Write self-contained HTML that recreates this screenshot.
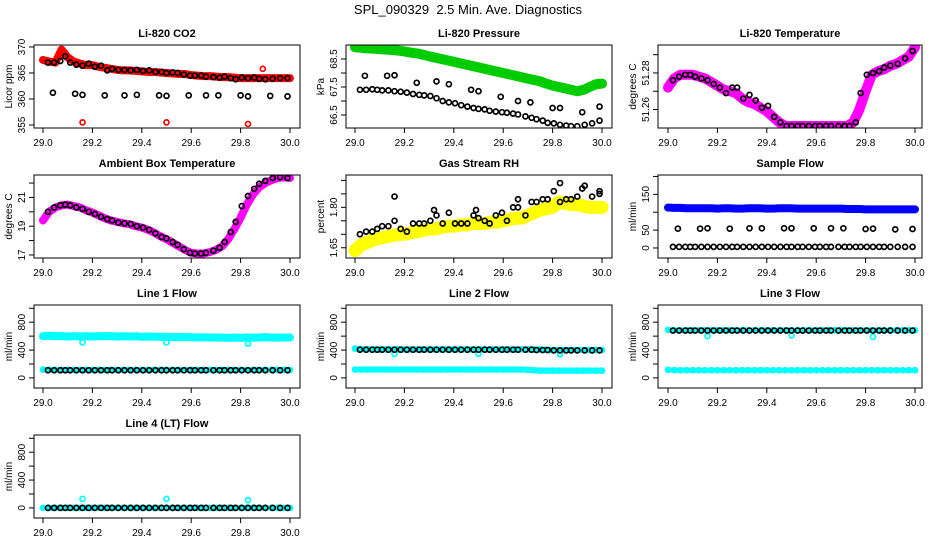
<!DOCTYPE html>
<html><head><meta charset="utf-8">
<style>
html,body{margin:0;padding:0;background:#fff;}
svg{display:block;font-family:"Liberation Sans",Arial,sans-serif;}
.tl{font-size:10px;fill:#000;}
.pt{font-size:11px;font-weight:bold;fill:#000;}
</style></head>
<body>
<svg id="chart" width="936" height="540" viewBox="0 0 936 540" xmlns="http://www.w3.org/2000/svg">
<text x="468" y="14" text-anchor="middle" style="font-size:13px;white-space:pre" xml:space="preserve">SPL_090329  2.5 Min. Ave. Diagnostics</text>
</svg>
<script>
const xGrid=[29.0,29.025,29.05,29.075,29.1,29.125,29.15,29.175,29.2,29.225,29.25,29.275,29.3,29.325,29.35,29.375,29.4,29.425,29.45,29.475,29.5,29.525,29.55,29.575,29.6,29.625,29.65,29.675,29.7,29.725,29.75,29.775,29.8,29.825,29.85,29.875,29.9,29.925,29.95,29.975,30.0];
const blkX=[29.02,29.045,29.07,29.09,29.11,29.135,29.16,29.185,29.21,29.235,29.26,29.28,29.305,29.33,29.355,29.38,29.405,29.43,29.455,29.48,29.5,29.525,29.545,29.57,29.595,29.615,29.64,29.66,29.69,29.715,29.735,29.76,29.78,29.805,29.83,29.855,29.875,29.9,29.93,29.96,29.99];
const sparseX=[29.04,29.13,29.16,29.25,29.33,29.38,29.47,29.5,29.59,29.66,29.71,29.8,29.83,29.92,29.99];
const xTicks=[29.0,29.2,29.4,29.6,29.8,30.0];

const co2Red=[367.5,367.2,367.0,369.5,368.0,367.2,366.8,366.5,366.5,366.2,366.0,365.8,365.6,365.5,365.5,365.4,365.3,365.2,365.2,365.1,365.0,364.9,364.8,364.8,364.6,364.5,364.4,364.4,364.3,364.2,364.2,364.1,364.0,364.0,364.0,364.0,364.0,364.0,364.0,364.0,364.0];
const co2Blk=[367.0,367.0,367.3,368.2,367.0,366.6,366.4,366.8,366.2,366.4,365.5,365.8,365.6,365.6,365.5,365.6,365.4,365.5,365.2,365.2,365.0,365.1,365.0,364.7,364.5,364.5,364.5,364.3,364.2,364.1,364.3,364.0,363.8,364.1,364.0,364.1,363.9,363.8,363.9,364.0,364.0];
const co2Low=[361.2,361.0,360.8,360.7,360.7,360.8,360.7,360.6,360.7,360.7,360.7,360.7,360.5,360.6,360.5];
const co2OutX=[29.16,29.5,29.83,29.89];
const co2OutY=[355.5,355.5,355.2,365.8];

const presGreen=[68.92,68.9,68.88,68.87,68.85,68.84,68.82,68.8,68.77,68.73,68.7,68.65,68.6,68.55,68.5,68.45,68.4,68.35,68.3,68.25,68.2,68.15,68.1,68.05,68.0,67.95,67.9,67.85,67.8,67.75,67.7,67.62,67.55,67.5,67.45,67.4,67.35,67.4,67.5,67.6,67.62];
const presBlk=[67.4,67.4,67.42,67.4,67.38,67.38,67.35,67.33,67.3,67.25,67.22,67.2,67.18,67.1,67.0,66.95,66.92,66.85,66.8,66.75,66.72,66.7,66.65,66.62,66.6,66.58,66.55,66.52,66.45,66.4,66.35,66.3,66.22,66.2,66.15,66.12,66.1,66.1,66.15,66.2,66.3];
const presUp=[67.9,67.9,67.92,67.65,67.7,67.6,67.4,67.35,67.15,67.0,66.95,66.75,66.75,66.6,66.8];

const tempMag=[51.272,51.277,51.279,51.279,51.279,51.278,51.277,51.275,51.273,51.271,51.270,51.269,51.266,51.264,51.263,51.261,51.259,51.256,51.253,51.251,51.251,51.251,51.251,51.251,51.251,51.251,51.251,51.251,51.251,51.251,51.253,51.260,51.270,51.279,51.281,51.282,51.284,51.285,51.287,51.289,51.294];
const tempBlk=[51.276,51.278,51.279,51.279,51.278,51.277,51.276,51.274,51.272,51.269,51.272,51.272,51.266,51.268,51.265,51.261,51.262,51.256,51.253,51.251,51.251,51.251,51.251,51.251,51.251,51.251,51.251,51.251,51.251,51.251,51.251,51.253,51.269,51.279,51.280,51.281,51.283,51.284,51.285,51.288,51.292];

const ambMag=[19.4,20.0,20.3,20.45,20.5,20.4,20.3,20.1,19.95,19.75,19.55,19.4,19.3,19.2,19.15,19.0,18.9,18.75,18.55,18.3,18.1,17.85,17.6,17.35,17.15,17.1,17.1,17.2,17.35,17.6,18.1,18.8,19.6,20.5,21.2,21.7,22.0,22.2,22.35,22.4,22.35];
const ambBlk=[20.0,20.3,20.45,20.5,20.45,20.3,20.2,20.0,19.85,19.65,19.5,19.4,19.25,19.2,19.15,19.0,18.9,18.75,18.5,18.25,18.15,17.9,17.7,17.4,17.15,17.1,17.1,17.15,17.3,17.5,17.9,18.6,19.3,20.4,21.1,21.6,21.95,22.15,22.35,22.4,22.35];

const rhYel=[1.64,1.66,1.67,1.68,1.685,1.69,1.695,1.70,1.70,1.705,1.71,1.715,1.72,1.72,1.725,1.73,1.73,1.735,1.735,1.74,1.74,1.74,1.745,1.745,1.75,1.755,1.76,1.76,1.77,1.78,1.79,1.795,1.80,1.82,1.815,1.81,1.81,1.805,1.80,1.80,1.80];
const rhBlk=[1.70,1.71,1.71,1.72,1.73,1.73,1.75,1.72,1.71,1.74,1.74,1.74,1.75,1.77,1.74,1.78,1.74,1.74,1.74,1.77,1.76,1.75,1.74,1.77,1.78,1.75,1.80,1.80,1.77,1.82,1.82,1.83,1.83,1.86,1.82,1.83,1.83,1.84,1.88,1.84,1.86];
const rhExtraX=[29.16,29.32,29.49,29.66,29.83,29.92,29.99];
const rhExtraY=[1.84,1.79,1.79,1.83,1.89,1.87,1.85];

const flowBlue=[113,112,112,111,111,111,111,111,110,111,111,110,110,111,111,111,110,110,111,111,111,110,110,110,110,110,110,110,110,109,109,109,108,108,108,108,108,108,108,108,108];
const flowBlk=[3,3,3,3,3,3,3,3,3,3,3,3,3,3,3,3,3,3,3,3,3,3,3,3,3,3,3,3,3,3,3,3,3,3,3,3,3,3,3,3,3];
const flowUp=[54,54,55,54,55,55,55,55,55,55,55,53,54,52,53];

const l1Up=[600,605,600,600,595,600,595,600,595,598,600,600,595,598,595,598,590,595,592,590,590,585,588,585,585,580,583,580,580,578,575,580,575,580,578,580,585,580,578,580,580];
const l1Low=[120,118,116,115,115,115,115,115,115,115,115,115,115,115,115,115,115,115,115,115,115,115,115,115,115,115,115,115,115,115,115,115,115,115,115,115,115,115,115,115,115];
const l1Blk=[110,110,110,110,110,110,110,110,110,110,110,110,110,110,110,110,110,110,110,110,110,110,110,110,110,110,110,110,110,110,110,110,110,110,110,110,110,110,110,110,110];
const l1DipX=[29.16,29.5,29.83];
const l1DipY=[510,510,490];

const l2Up=[420,415,412,412,410,410,410,410,410,410,410,410,410,410,410,410,410,410,410,410,410,410,410,410,410,410,410,410,410,410,410,405,400,400,400,400,400,400,400,400,400];
const l2Low=[120,120,120,120,120,120,120,120,120,120,120,120,120,120,120,120,120,120,120,120,120,120,120,120,120,120,120,120,115,110,105,105,105,105,105,105,105,105,105,105,105];
const l2Blk=[405,405,405,405,405,405,405,405,405,405,405,405,405,405,405,405,405,405,405,405,405,405,405,405,405,405,405,405,405,405,400,400,400,395,395,395,395,395,395,395,395];
const l2DipX=[29.16,29.5,29.83];
const l2DipY=[345,345,340];

const l3Up=[690,685,685,685,685,685,685,685,685,685,685,685,685,685,685,685,685,685,685,685,685,685,685,685,685,685,685,685,685,685,685,685,685,685,685,685,685,685,685,685,685];
const l3Low=[115,112,110,110,110,110,110,110,110,110,110,110,110,110,110,110,110,110,110,110,110,110,110,110,110,110,110,110,110,110,110,110,110,110,110,110,110,110,110,110,110];
const l3Blk=[680,680,680,680,680,680,680,680,680,680,680,680,680,680,680,680,680,680,680,680,680,680,680,680,680,680,680,680,680,680,680,680,680,680,680,680,680,680,680,680,680];
const l3DipX=[29.16,29.5,29.83];
const l3DipY=[600,610,590];

const l4Cyan=[0,0,0,0,0,0,0,0,0,0,0,0,0,0,0,0,0,0,0,0,0,0,0,0,0,0,0,0,0,0,0,0,0,0,0,0,0,0,0,0,0];
const l4Blk=[0,0,0,0,0,0,0,0,0,0,0,0,0,0,0,0,0,0,0,0,0,0,0,0,0,0,0,0,0,0,0,0,0,0,0,0,0,0,0,0,0];
const l4SpikeX=[29.16,29.5,29.83];
const l4SpikeY=[130,130,110];

const flowTicks=[0,200,400,600,800,1000];
const flowLabels=[0,400,800];

const svg=document.getElementById('chart');
const NS='http://www.w3.org/2000/svg';
function mk(tag,attrs,parent){const e=document.createElementNS(NS,tag);for(const k in attrs)e.setAttribute(k,attrs[k]);(parent||svg).appendChild(e);return e;}

const cols=[{l:34,r:300,x0:43,x1:290},{l:346,r:612,x0:355,x1:602},{l:658,r:922,x0:668,x1:915}];
const rowTop=[45,175,305,435];
const H=83;

function panel(cfg){
  const c=cols[cfg.col], top=rowTop[cfg.row], bot=top+H;
  const g=mk('g',{});
  
  
  const sx=v=>c.x0+(v-29)*(c.x1-c.x0);
  const sy=v=>bot-(v-cfg.ymin)/(cfg.ymax-cfg.ymin)*H;
  const t=mk('text',{x:(c.l+c.r)/2,y:top-8,'text-anchor':'middle',class:'pt'},g);
  t.textContent=cfg.title;
  
  
  const clip='clip'+cfg.row+cfg.col;
  const cp=mk('clipPath',{id:clip},g);
  mk('rect',{x:c.l,y:top,width:c.r-c.l,height:H},cp);
  const dg=mk('g',{'clip-path':'url(#'+clip+')'},g);
  cfg.series.forEach(s=>{
    const sg=mk('g',{},dg);
    
    
    if(s.band){
      const pts=s.x.map((xv,i)=>sx(xv)+','+sy(s.y[i])).join(' ');
      mk('polyline',{points:pts,fill:'none',stroke:s.color,'stroke-width':s.band,'stroke-linejoin':'round','stroke-linecap':'round'},sg);
    }
    s.x.forEach((xv,i)=>{
      const ci=mk('circle',{cx:sx(xv),cy:sy(s.y[i]),r:2.5,fill:'none',stroke:s.color,'stroke-width':1.7},sg);
      
      
    });
  });
  const box=mk('rect',{x:c.l,y:top,width:c.r-c.l,height:H,fill:'none',stroke:'#000','stroke-width':1},g);
  
  
  const xa=mk('g',{},g);
  
  
  xTicks.forEach(v=>{
    mk('line',{x1:sx(v),x2:sx(v),y1:bot,y2:bot+5,stroke:'#000'},xa);
    const tl=mk('text',{x:sx(v),y:bot+18,'text-anchor':'middle',class:'tl'},xa);
    tl.textContent=v.toFixed(1);
  });
  const ya=mk('g',{},g);
  
  
  cfg.ticks.forEach(v=>{mk('line',{x1:c.l-5,x2:c.l,y1:sy(v),y2:sy(v),stroke:'#000'},ya);});
  cfg.labels.forEach(v=>{
    const lx=c.l-9, ly=sy(v);
    const tl=mk('text',{x:lx,y:ly,'text-anchor':'middle',class:'tl',transform:'rotate(-90 '+lx+' '+ly+')'},ya);
    tl.textContent=cfg.fmt?cfg.fmt(v):String(v);
  });
  const yx=c.l-22, yy=(top+bot)/2;
  const yt=mk('text',{x:yx,y:yy,'text-anchor':'middle',class:'tl',transform:'rotate(-90 '+yx+' '+yy+')'},g);
  yt.textContent=cfg.ylab;
  
  
}

panel({name:'co2-panel',title:'Li-820 CO2',ylab:'Licor ppm',col:0,row:0,ymin:354.42,ymax:370.38,ticks:[355,360,365,370],labels:[355,360,365,370],
  series:[{name:'co2-red',x:xGrid,y:co2Red,color:'#ff0000',band:8},{name:'co2-red-outliers',x:co2OutX,y:co2OutY,color:'#ff0000'},
  {name:'co2-black',x:blkX,y:co2Blk,color:'#000'},{name:'co2-black-low',x:sparseX,y:co2Low,color:'#000'}]});
panel({name:'pressure-panel',title:'Li-820 Pressure',ylab:'kPa',col:1,row:0,ymin:66.036,ymax:69.0,ticks:[66.5,67,67.5,68,68.5],labels:[66.5,67.5,68.5],fmt:v=>v.toFixed(1),
  series:[{name:'pressure-green',x:xGrid,y:presGreen,color:'#00cc00',band:10},{name:'pressure-black',x:blkX,y:presBlk,color:'#000'},{name:'pressure-black-up',x:sparseX,y:presUp,color:'#000'}]});
panel({name:'temperature-panel',title:'Li-820 Temperature',ylab:'degrees C',col:2,row:0,ymin:51.2499,ymax:51.2953,ticks:[51.26,51.27,51.28,51.29],labels:[51.26,51.28],fmt:v=>v.toFixed(2),
  series:[{name:'temp-magenta',x:xGrid,y:tempMag,color:'#ff00ff',band:10},{name:'temp-black',x:blkX,y:tempBlk,color:'#000'}]});
panel({name:'ambient-panel',title:'Ambient Box Temperature',ylab:'degrees C',col:0,row:1,ymin:16.79,ymax:22.56,ticks:[17,18,19,20,21,22],labels:[17,19,21],
  series:[{name:'ambient-magenta',x:xGrid,y:ambMag,color:'#ff00ff',band:8},{name:'ambient-black',x:blkX,y:ambBlk,color:'#000'}]});
panel({name:'rh-panel',title:'Gas Stream RH',ylab:'percent',col:1,row:1,ymin:1.612,ymax:1.92,ticks:[1.65,1.7,1.75,1.8,1.85,1.9],labels:[1.65,1.8],fmt:v=>v.toFixed(2),
  series:[{name:'rh-yellow',x:xGrid,y:rhYel,color:'#ffff00',band:13},{name:'rh-black',x:blkX,y:rhBlk,color:'#000'},{name:'rh-black-extra',x:rhExtraX,y:rhExtraY,color:'#000'}]});
panel({name:'sample-flow-panel',title:'Sample Flow',ylab:'ml/min',col:2,row:1,ymin:-28,ymax:204,ticks:[0,50,100,150,200],labels:[0,50,150],
  series:[{name:'flow-blue',x:xGrid,y:flowBlue,color:'#0000ff',band:8},{name:'flow-black',x:blkX,y:flowBlk,color:'#000'},{name:'flow-black-up',x:sparseX,y:flowUp,color:'#000'}]});
panel({name:'line1-panel',title:'Line 1 Flow',ylab:'ml/min',col:0,row:2,ymin:-145,ymax:1047,ticks:flowTicks,labels:flowLabels,
  series:[{name:'line1-cyan-up',x:xGrid,y:l1Up,color:'#00ffff',band:8},{name:'line1-cyan-low',x:xGrid,y:l1Low,color:'#00ffff',band:5},{name:'line1-dips',x:l1DipX,y:l1DipY,color:'#00ffff'},{name:'line1-black',x:blkX,y:l1Blk,color:'#000'}]});
panel({name:'line2-panel',title:'Line 2 Flow',ylab:'ml/min',col:1,row:2,ymin:-145,ymax:1047,ticks:flowTicks,labels:flowLabels,
  series:[{name:'line2-cyan-up',x:xGrid,y:l2Up,color:'#00ffff',band:6},{name:'line2-cyan-low',x:xGrid,y:l2Low,color:'#00ffff',band:6},{name:'line2-dips',x:l2DipX,y:l2DipY,color:'#00ffff'},{name:'line2-black',x:blkX,y:l2Blk,color:'#000'}]});
panel({name:'line3-panel',title:'Line 3 Flow',ylab:'ml/min',col:2,row:2,ymin:-145,ymax:1047,ticks:flowTicks,labels:flowLabels,
  series:[{name:'line3-cyan-up',x:xGrid,y:l3Up,color:'#00ffff',band:5},{name:'line3-cyan-low',x:xGrid,y:l3Low,color:'#00ffff',band:5},{name:'line3-dips',x:l3DipX,y:l3DipY,color:'#00ffff'},{name:'line3-black',x:blkX,y:l3Blk,color:'#000'}]});
panel({name:'line4-panel',title:'Line 4 (LT) Flow',ylab:'ml/min',col:0,row:3,ymin:-145,ymax:1047,ticks:flowTicks,labels:flowLabels,
  series:[{name:'line4-cyan',x:xGrid,y:l4Cyan,color:'#00ffff',band:5},{name:'line4-spikes',x:l4SpikeX,y:l4SpikeY,color:'#00ffff'},{name:'line4-black',x:blkX,y:l4Blk,color:'#000'}]});
</script>
</body></html>
